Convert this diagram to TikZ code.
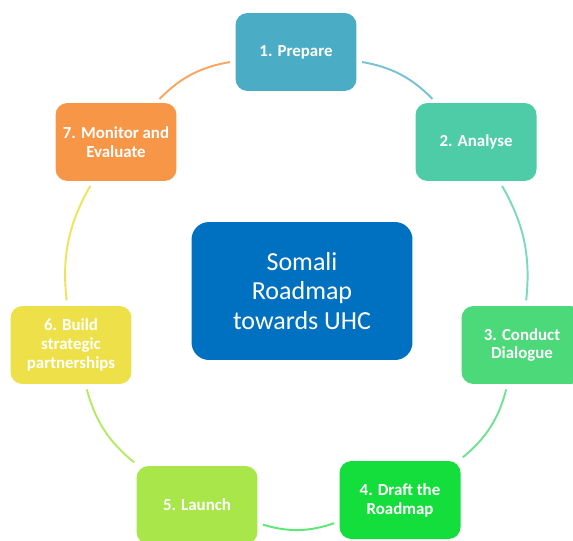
\documentclass[tikz,border=0pt]{standalone}
\usepackage{fontspec}
\setmainfont{Carlito}
\usepackage{xcolor}
\usetikzlibrary{positioning}

\definecolor{cPrep}{RGB}{75,172,198}
\definecolor{cAnal}{RGB}{78,204,168}
\definecolor{cDial}{RGB}{76,217,122}
\definecolor{cDraft}{RGB}{20,222,60}
\definecolor{cLaunch}{RGB}{168,230,74}
\definecolor{cBuild}{RGB}{238,224,72}
\definecolor{cMon}{RGB}{247,150,70}
\definecolor{cHub}{RGB}{0,112,192}

\tikzset{
  stage/.style={rounded corners=6.8pt, minimum width=2.42cm, minimum height=1.56cm,
    text=white, align=center, font=\fontsize{9.6}{10.8}\selectfont\bfseries, inner sep=2pt},
  hub/.style={rounded corners=10pt, fill=cHub, minimum width=4.42cm, minimum height=2.76cm,
    text=white, align=center, font=\fontsize{14.8}{17}\selectfont},
  ring/.style={line width=1.1pt, bend left=18, shorten >=3pt, shorten <=3pt}
}

\begin{document}
\begin{tikzpicture}[x=0.02cm, y=-0.02cm]
\useasboundingbox (0,0) rectangle (573,540);

\node[hub] (hub) at (302,291) {Somali\\Roadmap\\towards UHC};

\node[stage, fill=cPrep]   (s1) at (296,52)  {1. Prepare};
\node[stage, fill=cAnal]   (s2) at (476,142) {2. Analyse};
\node[stage, fill=cDial]   (s3) at (522,345) {3. Conduct\\Dialogue};
\node[stage, fill=cDraft]  (s4) at (400,500) {4. Draft the\\Roadmap};
\node[stage, fill=cLaunch] (s5) at (197,505) {5. Launch};
\node[stage, fill=cBuild]  (s6) at (71,345)  {6. Build\\strategic\\partnerships};
\node[stage, fill=cMon]    (s7) at (116,142) {7. Monitor and\\Evaluate};

% ring round the hub
\draw[ring, cPrep!75]   (s1) to (s2);
\draw[ring, cAnal!75]   (s2) to (s3);
\draw[ring, cDial!80]   (s3) to (s4);
\draw[ring, cDraft!70]  (s4) to (s5);
\draw[ring, cLaunch!85] (s5) to (s6);
\draw[ring, cBuild!90]  (s6) to (s7);
\draw[ring, cMon!85]    (s7) to (s1);
\end{tikzpicture}
\end{document}
